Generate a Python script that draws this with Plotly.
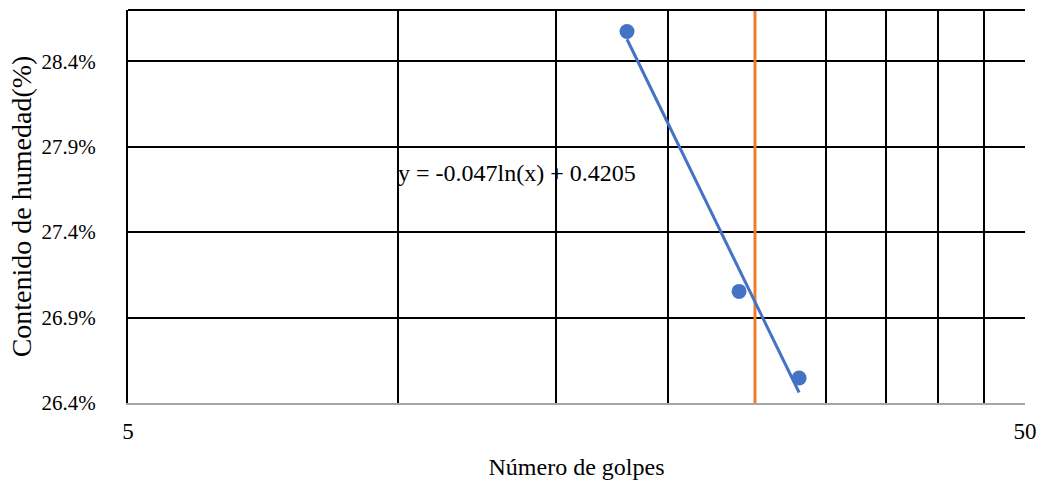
import numpy as np
import plotly.graph_objects as go

# Ensayo de límite líquido: número de golpes vs contenido de humedad
golpes = [18, 24, 28]
humedad = [0.28574, 0.27053, 0.26546]

golpes_ref = 25  # línea vertical en 25 golpes

x_ticks = [5, 10, 15, 20, 25, 30, 35, 40, 45, 50]
x_tick_text = ["5", "", "", "", "", "", "", "", "", "50"]
y_ticks = [0.264, 0.269, 0.274, 0.279, 0.284]
y_range = [0.264, 0.287]

# Línea de tendencia logarítmica  y = a ln(x) + b
a, b = np.polyfit(np.log(golpes), humedad, 1)
x_fit = np.linspace(min(golpes), max(golpes), 60)
y_fit = a * np.log(x_fit) + b
ecuacion = f"y = {a:.3f}ln(x) + {b:.4f}"

BLUE = "#4472C4"
ORANGE = "#ED7D31"
FONT = "Liberation Serif, Times New Roman, serif"

fig = go.Figure()

fig.add_trace(go.Scatter(
    x=[golpes_ref, golpes_ref], y=y_range, mode="lines",
    line=dict(color=ORANGE, width=3), showlegend=False, hoverinfo="skip",
))
fig.add_trace(go.Scatter(
    x=x_fit, y=y_fit, mode="lines",
    line=dict(color=BLUE, width=3), showlegend=False,
))
fig.add_trace(go.Scatter(
    x=golpes, y=humedad, mode="markers",
    marker=dict(color=BLUE, size=15), showlegend=False,
))

fig.add_annotation(
    x=np.log10(10), y=0.27747, xref="x", yref="y",
    text=ecuacion, showarrow=False, xanchor="left", yanchor="middle",
    xshift=-2,
    font=dict(family=FONT, size=24, color="black"),
)

# Borde superior del área de trazado
fig.add_shape(type="line", xref="paper", yref="paper", x0=0, x1=1, y0=1, y1=1,
              line=dict(color="black", width=2))

fig.update_layout(
    width=1042, height=484,
    margin=dict(l=128, r=17, t=10, b=81),
    paper_bgcolor="white", plot_bgcolor="white",
    font=dict(family=FONT, size=20, color="black"),
)

fig.update_xaxes(
    type="log", range=[np.log10(5), np.log10(50)],
    tickvals=x_ticks, ticktext=x_tick_text, ticks="",
    ticklabelstandoff=6, automargin=False,
    showgrid=True, gridcolor="black", gridwidth=2,
    showline=True, linecolor="#A6A6A6", linewidth=2,
    zeroline=False,
    title=dict(text="Número de golpes", font=dict(family=FONT, size=24), standoff=16),
    tickfont=dict(family=FONT, size=23),
)
fig.update_yaxes(
    range=y_range, tickvals=y_ticks, tickformat=".1%", ticks="",
    ticklabelstandoff=26, automargin=False,
    showgrid=True, gridcolor="black", gridwidth=2,
    showline=True, linecolor="black", linewidth=2,
    zeroline=False,
    title=dict(text="Contenido de humedad(%)", font=dict(family=FONT, size=28), standoff=2),
    tickfont=dict(family=FONT, size=21),
)

fig.write_html("out.html")
